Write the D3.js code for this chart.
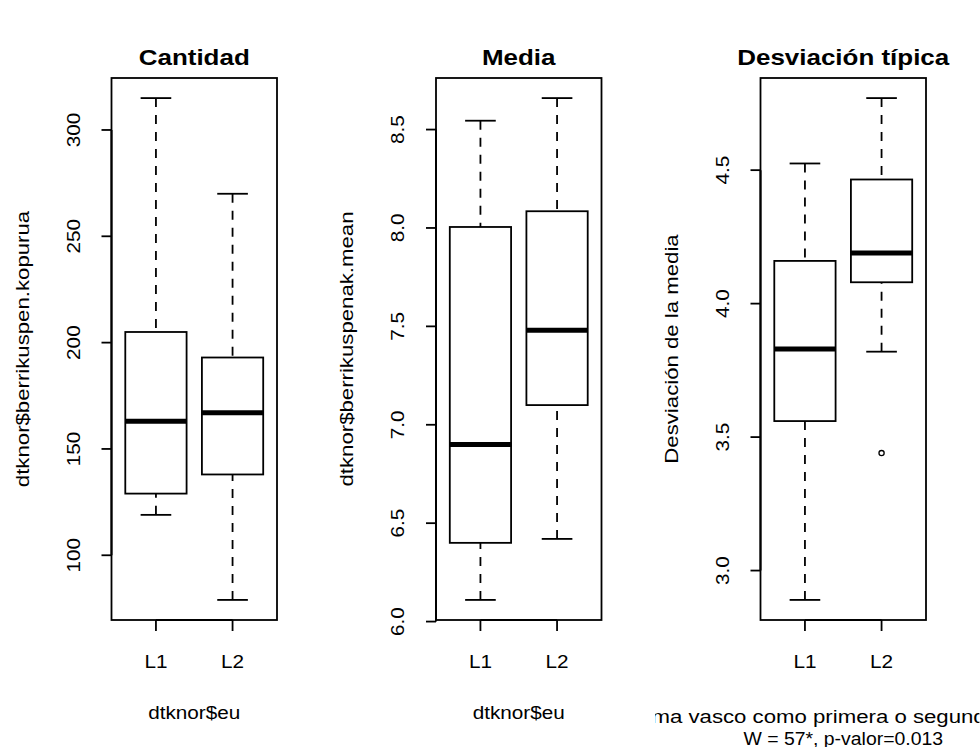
<!DOCTYPE html>
<html>
<head>
<meta charset="utf-8">
<script src="https://cdnjs.cloudflare.com/ajax/libs/d3/7.8.5/d3.min.js"></script>
<style>
  body { margin: 0; background: #fff; }
  svg { display: block; }
  text { font-family: "Liberation Sans", Arial, sans-serif; fill: #000; }
</style>
</head>
<body>
<div id="chart"></div>
<script>
// groups on the x axis
var groups = ['L1', 'L2'];
var titles = ['Cantidad', 'Media', 'Desviación típica'];
var yTitles = ['dtknor$berrikuspen.kopurua', 'dtknor$berrikuspenak.mean', 'Desviación de la media'];
var xTitles = [['dtknor$eu'], ['dtknor$eu'], ['Idioma vasco como primera o segunda lengua', 'W = 57*, p-valor=0.013']];

// boxplot stats per group: lower whisker, Q1, median, Q3, upper whisker
var cantidadStats = [[119, 129, 163, 205, 315], [79, 138, 167, 193, 270]];
var mediaStats = [[6.11, 6.40, 6.90, 8.005, 8.545], [6.42, 7.10, 7.48, 8.085, 8.66]];
var desviacionStats = [[2.89, 3.56, 3.83, 4.16, 4.525], [3.82, 4.08, 4.19, 4.465, 4.77]];

// outliers per group
var cantidadOut = [[], []];
var mediaOut = [[], []];
var desviacionOut = [[], [3.44]];

// y tick values
var cantidadTicks = [100, 150, 200, 250, 300];
var mediaTicks = [6.0, 6.5, 7.0, 7.5, 8.0, 8.5];
var desviacionTicks = [3.0, 3.5, 4.0, 4.5];

var W = 980, H = 747;
var step = 324.5;        // width of one panel
var left = 111.5;        // left margin inside a panel
var pw = 165.5;          // plot width
var plotTop = 78, plotBottom = 620;
var stretch = 1.12;      // text looks a bit wide in the original

var svg = d3.select('#chart').append('svg')
  .attr('width', W)
  .attr('height', H);

function label(g, x, y, rot, txt, size, bold, sx) {
  return g.append('text')
    .attr('transform', 'translate(' + x + ',' + y + ') rotate(' + rot + ') scale(' + (sx || stretch) + ',1)')
    .attr('text-anchor', 'middle')
    .style('font-size', size + 'px')
    .style('font-weight', bold ? 'bold' : 'normal')
    .text(txt);
}

function drawPanel(i, stats, outs, ticks, fmt) {
  var x0 = i * step + left;
  var g = svg.append('g');

  // R pads both axes by 4%
  var x = d3.scaleLinear().domain([0.42, 2.58]).range([x0, x0 + pw]);
  var all = d3.merge(stats.concat(outs));
  var lo = d3.min(all), hi = d3.max(all), pad = (hi - lo) * 0.04;
  var y = d3.scaleLinear().domain([lo - pad, hi + pad]).range([plotBottom, plotTop]);

  var bw = x(1.4) - x(1);   // half box width
  var cw = bw / 2;          // half staple width

  stats.forEach(function (s, k) {
    var cx = x(k + 1);
    // whiskers
    g.append('line').attr('x1', cx).attr('x2', cx).attr('y1', y(s[0])).attr('y2', y(s[1]))
      .attr('stroke', '#000').attr('stroke-width', 1.8).attr('stroke-dasharray', '9,8');
    g.append('line').attr('x1', cx).attr('x2', cx).attr('y1', y(s[4])).attr('y2', y(s[3]))
      .attr('stroke', '#000').attr('stroke-width', 1.8).attr('stroke-dasharray', '9,8');
    [s[0], s[4]].forEach(function (v) {
      g.append('line').attr('x1', cx - cw).attr('x2', cx + cw).attr('y1', y(v)).attr('y2', y(v))
        .attr('stroke', '#000').attr('stroke-width', 1.8);
    });
    // box
    g.append('rect')
      .attr('x', cx - bw).attr('width', 2 * bw)
      .attr('y', y(s[3])).attr('height', y(s[1]) - y(s[3]))
      .attr('fill', 'none').attr('stroke', '#000').attr('stroke-width', 1.8);
    // median
    g.append('line').attr('x1', cx - bw).attr('x2', cx + bw).attr('y1', y(s[2])).attr('y2', y(s[2]))
      .attr('stroke', '#000').attr('stroke-width', 5);
    // outliers
    outs[k].forEach(function (v) {
      g.append('circle').attr('cx', cx).attr('cy', y(v)).attr('r', 2.6)
        .attr('fill', 'none').attr('stroke', '#000').attr('stroke-width', 1.3);
    });
  });

  // frame
  g.append('rect').attr('x', x0).attr('y', plotTop).attr('width', pw).attr('height', plotBottom - plotTop)
    .attr('fill', 'none').attr('stroke', '#000').attr('stroke-width', 1.8);

  // y axis
  g.append('line').attr('x1', x0).attr('x2', x0)
    .attr('y1', y(ticks[0])).attr('y2', y(ticks[ticks.length - 1]))
    .attr('stroke', '#000').attr('stroke-width', 2);
  ticks.forEach(function (t) {
    g.append('line').attr('x1', x0 - 10).attr('x2', x0).attr('y1', y(t)).attr('y2', y(t))
      .attr('stroke', '#000').attr('stroke-width', 1.8);
    label(g, x0 - 32, y(t), -90, fmt(t), 18.5);
  });

  // x axis
  g.append('line').attr('x1', x(1)).attr('x2', x(2)).attr('y1', plotBottom).attr('y2', plotBottom)
    .attr('stroke', '#000').attr('stroke-width', 2);
  groups.forEach(function (name, k) {
    g.append('line').attr('x1', x(k + 1)).attr('x2', x(k + 1)).attr('y1', plotBottom).attr('y2', plotBottom + 11)
      .attr('stroke', '#000').attr('stroke-width', 1.8);
    label(g, x(k + 1), 668, 0, name, 18.5);
  });

  // titles
  var mid = x0 + pw / 2;
  label(g, mid, 65, 0, titles[i], 22, true, 1.18);
  label(g, x0 - 83, (plotTop + plotBottom) / 2, -90, yTitles[i], 18.5, false, 1.2);

  // x title is clipped to the figure region, as in R
  var clipId = 'fig' + i;
  svg.append('clipPath').attr('id', clipId)
    .append('rect').attr('x', i * step + 6).attr('y', 0).attr('width', step).attr('height', H);
  var xt = g.append('g').attr('clip-path', 'url(#' + clipId + ')');
  var lines = xTitles[i];
  if (lines.length === 1) {
    label(xt, mid, 719, 0, lines[0], 18.5);
  } else {
    label(xt, mid, 723, 0, lines[0], 18.5, false, 1.2);
    label(xt, mid, 745, 0, lines[1], 18.5, false, 1.05);
  }
}

drawPanel(0, cantidadStats, cantidadOut, cantidadTicks, d3.format('d'));
drawPanel(1, mediaStats, mediaOut, mediaTicks, d3.format('.1f'));
drawPanel(2, desviacionStats, desviacionOut, desviacionTicks, d3.format('.1f'));
</script>
</body>
</html>
